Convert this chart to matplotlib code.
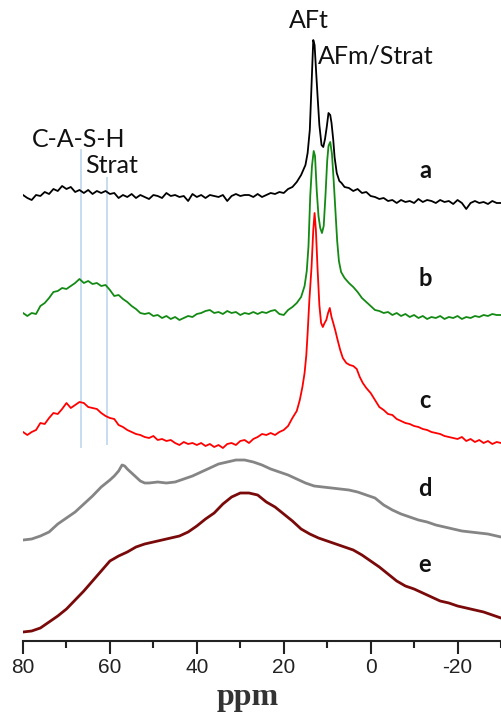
import numpy as np
import matplotlib
matplotlib.use("Agg")
import matplotlib.pyplot as plt

plt.rcParams["axes.unicode_minus"] = False

# chemical shift (ppm) and intensity (arb. units, relative to each trace baseline)
ppm_a = [80, 79, 78, 77, 76, 75, 74, 73, 72, 71, 70, 69, 68, 67, 66, 65, 64, 63, 62, 61,
         60, 59, 58, 57, 56, 55, 54, 53, 52, 51, 50, 49, 48, 47, 46, 45, 44, 43, 42, 41,
         40, 39, 38, 37, 36, 35, 34, 33, 32, 31, 30, 29, 28, 27, 26, 25, 24, 23, 22, 21,
         20, 19, 18, 17, 16, 15, 14.5, 14, 13.6, 13.2, 12.9, 12.5, 12.2, 11.8, 11.3, 10.9,
         10.5, 10.1, 9.7, 9.3, 9.0, 8.6, 8.3, 7.8, 7.2, 6.7, 6, 5, 4, 3, 2, 1, 0,
         -1, -2, -3, -4, -5, -6, -7, -8, -9, -10, -11, -12, -13, -14, -15, -16, -17, -18,
         -19, -20, -21, -22, -23, -24, -25, -26, -27, -28, -29, -30]
int_a = [0, -3, -5, 0, -1, 3, 1, 6, 4, 9, 6, 8, 3, 5, 2, 5, 1, 4, 2, 4,
         1, 2, -3, 0, -2, 1, -3, 0, -2, -4, 0, -1, -3, 2, -1, 0, -2, -1, -6, 1,
         -2, 0, -3, 0, -1, -2, 0, -6, -1, 1, -1, 0, 0, -2, 1, -2, 0, 2, 1, 3,
         2, 6, 8, 13, 20, 30, 42, 65, 110, 155, 150, 120, 98, 70, 50, 48,
         56, 68, 82, 80, 72, 55, 38, 22, 14, 12, 8, 7, 4, 6, 2, 3, -1,
         -2, -4, -3, -6, -5, -8, -5, -7, -6, -8, -4, -7, -5, -6, -8, -5, -7, -6,
         -9, -5, -8, -14, -8, -6, -8, -7, -9, -6, -8, -8]

ppm_b = [80, 79, 78, 77, 76, 75, 74, 73, 72, 71, 70, 69, 68, 67, 66, 65, 64, 63, 62, 61,
         60, 59, 58, 57, 56, 55, 54, 53, 52, 51, 50, 49, 48, 47, 46, 45, 44, 43, 42, 41,
         40, 39, 38, 37, 36, 35, 34, 33, 32, 31, 30, 29, 28, 27, 26, 25, 24, 23, 22, 21,
         20, 19, 18, 17, 16, 15.2, 14.7, 14.3, 13.9, 13.5, 13.1, 12.8, 12.4, 12.0, 11.6,
         11.2, 10.8, 10.4, 10.0, 9.7, 9.3, 8.9, 8.5, 8.1, 7.7, 7.3, 6.8, 6, 5, 4, 3, 2, 1, 0,
         -1, -2, -3, -4, -5, -6, -7, -8, -9, -10, -11, -12, -13, -14, -15, -16, -17, -18,
         -19, -20, -21, -22, -23, -24, -25, -26, -27, -28, -29, -30]
int_b = [3, 0, 3, 2, 10, 13, 18, 24, 25, 28, 27, 30, 33, 37, 33, 35, 32, 33, 30, 31,
         26, 20, 21, 17, 14, 10, 7, 3, 2, 3, 0, 1, -2, 0, -3, -1, -4, -2, 0, -1,
         2, 3, 5, 6, 3, 4, 2, 5, 3, 4, 1, 3, 2, 4, 2, 4, 3, 5, 6, 2,
         1, 6, 9, 13, 19, 30, 45, 70, 120, 150, 165, 160, 125, 100, 88,
         83, 90, 120, 155, 170, 174, 162, 135, 105, 75, 55, 44, 38, 33, 29, 24, 18, 14, 10,
         6, 5, 3, 4, 1, 3, 0, 2, -1, 1, -2, 0, -3, -1, -2, 0, -3, -1,
         -2, 0, -3, -1, -2, 0, -1, 1, 0, 2, 1, 1]

ppm_c = [80, 79, 78, 77, 76, 75, 74, 73, 72, 71, 70, 69, 68, 67, 66, 65, 64, 63, 62, 61,
         60, 59, 58, 57, 56, 55, 54, 53, 52, 51, 50, 49, 48, 47, 46, 45, 44, 43, 42, 41,
         40, 39, 38, 37, 36, 35, 34, 33, 32, 31, 30, 29, 28, 27, 26, 25, 24, 23, 22, 21,
         20, 19, 18, 17, 16.3, 15.7, 15.2, 14.8, 14.5, 14.1, 13.6, 13.2, 12.9, 12.6, 12.2,
         11.8, 11.4, 11.0, 10.6, 10.2, 9.8, 9.4, 9.0, 8.6, 8.1, 7.6, 7.0, 6.4, 5.6, 4.8, 4,
         3.2, 2.5, 1.8, 1, 0, -1, -2, -3, -4, -5, -6, -7, -8, -9, -10, -11, -12, -13, -14,
         -15, -16, -17, -18, -19, -20, -21, -22, -23, -24, -25, -26, -27, -28, -29, -30]
int_c = [3, 0, 3, 5, 12, 11, 17, 22, 21, 26, 32, 27, 30, 33, 32, 28, 27, 26, 22, 19,
         17, 16, 10, 8, 5, 3, 1, 0, -2, -3, -1, -5, -4, -6, -5, -8, -10, -7, -9, -8,
         -10, -8, -11, -9, -12, -10, -13, -9, -8, -10, -6, -5, -8, -4, -2, 1, 0, 2, 0, 3,
         5, 9, 17, 24, 35, 48, 62, 80, 102, 135, 168, 205, 222, 205, 165,
         130, 112, 108, 112, 115, 122, 127, 118, 112, 104, 95, 85, 77, 72, 70, 69,
         66, 58, 52, 47, 42, 35, 28, 25, 21, 20, 16, 14, 12, 11, 9, 8, 6, 5, 3,
         2, 1, -1, -2, -3, -4, -2, -6, -4, -7, -5, -8, -6, -9, -7, -8]

ppm_d = [80, 78, 76, 74, 72, 70, 68, 66, 64, 62, 60, 59, 58, 57.2, 56.6, 56, 55, 54, 53,
         52, 51, 49, 47, 45, 43, 41, 39, 37, 35, 33, 31, 29, 27, 25, 23, 21, 19, 17, 15,
         13, 11, 9, 7, 5, 3, 1, -1, -3, -5, -7, -9, -11, -13, -15, -17, -19, -21, -23,
         -25, -27, -29, -30]
int_d = [1, 2, 5, 9, 17, 23, 29, 37, 45, 54, 61, 65, 70, 76, 75, 72, 68, 64, 60,
         58, 58, 59, 58, 59, 62, 65, 69, 73, 77, 79, 81, 81, 79, 76, 72, 69, 66, 62, 58,
         55, 54, 53, 52, 51, 49, 46, 43, 36, 31, 27, 24, 21, 19, 16, 14, 12, 10, 9,
         8, 7, 5, 4]

ppm_e = [80, 78, 76, 74, 72, 70, 68, 66, 64, 62, 60, 58, 56, 54, 52, 50, 48, 46, 44, 42,
         40, 38, 36, 34, 32, 30, 28, 26, 24, 22, 20, 18, 16, 14, 12, 10, 8, 6, 4, 2, 0,
         -2, -4, -6, -8, -10, -12, -14, -16, -18, -20, -22, -24, -26, -28, -30]
int_e = [1, 2, 5, 11, 17, 24, 33, 42, 52, 62, 72, 77, 81, 86, 89, 91, 93, 95, 97, 101,
         107, 114, 120, 129, 136, 140, 140, 138, 131, 126, 119, 112, 104, 99, 95, 92, 89, 86, 83, 78, 72,
         66, 59, 52, 47, 44, 40, 36, 32, 30, 27, 25, 23, 21, 18, 15]

traces = [(ppm_a, int_a, "a", "black"),
          (ppm_b, int_b, "b", "#138a13"),
          (ppm_c, int_c, "c", "#ff0000"),
          (ppm_d, int_d, "d", "#858585"),
          (ppm_e, int_e, "e", "#7a0a0a")]
offsets = [446, 325, 206, 100, 8]
widths = [1.3, 1.3, 1.3, 2.0, 2.0]
label_y = [470, 362, 240, 152, 76]

# reference shift markers (C-A-S-H and stratlingite)
marker_ppm = [66.7, 60.7]
marker_top = [491, 463]
marker_bottom = [194, 197]

fig = plt.figure(figsize=(5.01, 7.21), dpi=100)
ax = fig.add_axes([23 / 501, 80 / 721, 478 / 501, 641 / 721])

for xm, top, bot in zip(marker_ppm, marker_top, marker_bottom):
    ax.plot([xm, xm], [bot, top], color="#c9dcef", lw=1.4, zorder=1)

for (x, y, name, col), off, lw, ly in zip(traces, offsets, widths, label_y):
    ax.plot(x, np.array(y) + off, color=col, lw=lw, zorder=2)
    ax.text(-12.5, ly, name, fontsize=17, fontweight="bold", family="Lato",
            ha="center", va="center", color="#111111")

ann = dict(fontsize=18, family="Lato", color="#111111", va="baseline")
ax.text(14.3, 613, "AFt", ha="center", **ann)
ax.text(12.2, 578, "AFm/Strat", ha="left", **ann)
ax.text(77.9, 494, "C-A-S-H", ha="left", **ann)
ax.text(65.7, 468, "Strat", ha="left", **ann)

ax.set_xlim(80, -30)
ax.set_ylim(0, 641)
for s in ["top", "right", "left"]:
    ax.spines[s].set_visible(False)
ax.spines["bottom"].set_linewidth(1.5)
ax.spines["bottom"].set_color("#222222")
ax.set_yticks([])
ax.set_xticks([80, 60, 40, 20, 0, -20])
ax.set_xticks([70, 50, 30, 10, -10, -30], minor=True)
ax.tick_params(axis="x", which="major", direction="out", length=9, width=1.5,
               pad=3, labelsize=15, colors="#222222")
ax.tick_params(axis="x", which="minor", direction="out", length=5, width=1.5,
               colors="#222222")
for t in ax.get_xticklabels():
    t.set_family("Liberation Sans")

fig.text(248 / 501, 16 / 721, "ppm", ha="center", va="baseline", fontsize=23,
         fontweight="bold", family="Liberation Serif", color="#333333")

fig.savefig("out.png", dpi=100)
